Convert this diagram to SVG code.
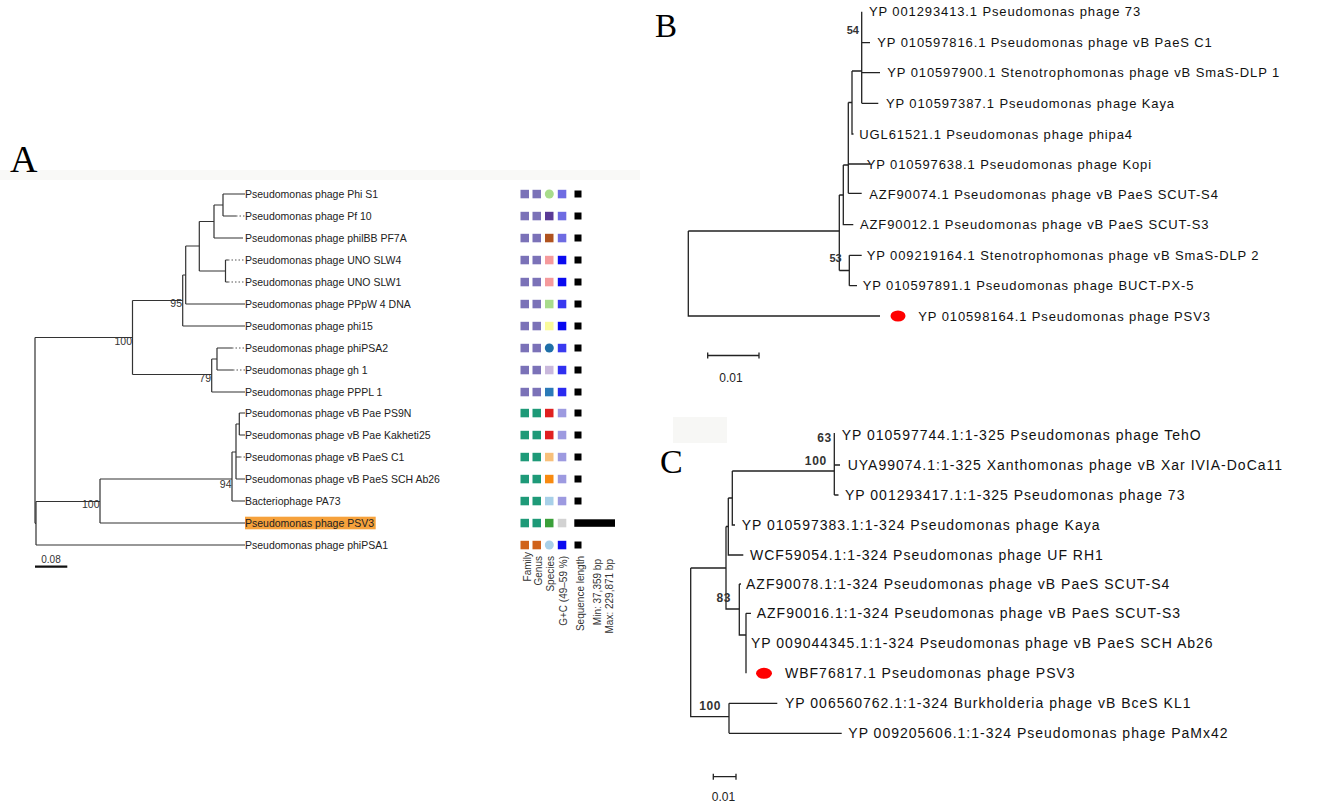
<svg xmlns="http://www.w3.org/2000/svg" width="1325" height="810" viewBox="0 0 1325 810">
<style>
.bg{fill:#ffffff}
.e{stroke:#333;stroke-width:1.2;fill:none}
.d{stroke:#555;stroke-width:1;fill:none;stroke-dasharray:1.5 2}
.eb{stroke:#222;stroke-width:1.3;fill:none}
.la{font-family:"Liberation Sans",Arial,sans-serif;font-size:10.5px;fill:#222}
.lg{font-family:"Liberation Sans",Arial,sans-serif;font-size:10px;fill:#333}
.bs{font-family:"Liberation Sans",Arial,sans-serif;font-size:10.5px;fill:#333}
.lb{font-family:"Liberation Sans",Arial,sans-serif;font-size:13px;letter-spacing:0.88px;fill:#111}
.lc{font-family:"Liberation Sans",Arial,sans-serif;font-size:14px;letter-spacing:1px;fill:#111}
.bt{font-family:"Liberation Sans",Arial,sans-serif;font-size:11px;font-weight:bold;fill:#333}
.bc{font-family:"Liberation Sans",Arial,sans-serif;font-size:12px;font-weight:bold;letter-spacing:0.6px;fill:#333}
.sc{font-family:"Liberation Sans",Arial,sans-serif;font-size:12px;fill:#222}
.pl{font-family:"Liberation Serif","Times New Roman",serif;fill:#000}
.pu{fill:#7b72b8}.gr{fill:#1e9a78}.or{fill:#d0621a}
.dot{fill:#ff0000}
</style>
<rect class="bg" x="0" y="0" width="1325" height="810"/>
<rect x="0" y="170" width="640" height="10" fill="#f9f9f7"/>
<rect x="673" y="417" width="54" height="26" fill="#f7f7f5"/>

<!-- Panel letters -->
<text class="pl" x="10" y="172" font-size="38">A</text>
<text class="pl" x="655" y="37" font-size="33">B</text>
<text class="pl" x="660" y="473" font-size="34">C</text>

<!-- ================= Panel A ================= -->
<g id="panelA-edges">
<path class="e" d="M223,194V216M223,194H245M223,216H236M214,205V238M214,205H223M214,238H243"/>
<path class="d" d="M236,216H245"/>
<path class="e" d="M225.5,260V282M225.5,260H228M225.5,282H228"/>
<path class="d" d="M228,260H245M228,282H245"/>
<path class="e" d="M199.3,221.5V271M199.3,221.5H214M199.3,271H225.5"/>
<path class="e" d="M185.7,246V304M185.7,246H199.3M185.7,304H245"/>
<path class="e" d="M182.7,275V326M182.7,275H185.7M182.7,326H245"/>
<path class="e" d="M132.5,300.5V374.5M132.5,300.5H182.7M132.5,374.5H211.7"/>
<path class="e" d="M217,348V370M217,348H232M217,370H233"/>
<path class="d" d="M232,348H245M233,370H245"/>
<path class="e" d="M211.7,359V392M211.7,359H217M211.7,392H245"/>
<path class="e" d="M35,337.5V523.3M35,337.5H132.5M35,523.3H36"/>
<path class="e" d="M239.3,413V435M239.3,413H245M239.3,435H245"/>
<path class="e" d="M236,424V479M236,424H239.3M236,457H240M236,479H245"/>
<path class="d" d="M240,457H245"/>
<path class="e" d="M232,452V501M232,452H236M232,501H245"/>
<path class="e" d="M100,479V523M100,479H232M100,523H245"/>
<path class="e" d="M36,501.5V545M36,501.5H100M36,545H245"/>
<path d="M35,566.7H67.3" stroke="#111" stroke-width="2.2"/>
</g>
<g id="panelA-support">
<text class="bs" x="182" y="307" text-anchor="end">95</text>
<text class="bs" x="132" y="344.5" text-anchor="end">100</text>
<text class="bs" x="211" y="381.5" text-anchor="end">79</text>
<text class="bs" x="231.5" y="487.5" text-anchor="end">94</text>
<text class="bs" x="99.5" y="508" text-anchor="end">100</text>
<text class="lg" x="51" y="562.5" text-anchor="middle">0.08</text>
</g>
<g id="panelA-labels">
<rect x="245" y="516.7" width="130.7" height="12.6" fill="#f6a13b"/>
<text class="la" x="245" y="197.8">Pseudomonas phage Phi S1</text>
<text class="la" x="245" y="219.8">Pseudomonas phage Pf 10</text>
<text class="la" x="245" y="241.8">Pseudomonas phage philBB PF7A</text>
<text class="la" x="245" y="263.8">Pseudomonas phage UNO SLW4</text>
<text class="la" x="245" y="285.8">Pseudomonas phage UNO SLW1</text>
<text class="la" x="245" y="307.8">Pseudomonas phage PPpW 4 DNA</text>
<text class="la" x="245" y="329.8">Pseudomonas phage phi15</text>
<text class="la" x="245" y="351.8">Pseudomonas phage phiPSA2</text>
<text class="la" x="245" y="373.8">Pseudomonas phage gh 1</text>
<text class="la" x="245" y="395.8">Pseudomonas phage PPPL 1</text>
<text class="la" x="245" y="416.8">Pseudomonas phage vB Pae PS9N</text>
<text class="la" x="245" y="438.8">Pseudomonas phage vB Pae Kakheti25</text>
<text class="la" x="245" y="460.8">Pseudomonas phage vB PaeS C1</text>
<text class="la" x="245" y="482.8">Pseudomonas phage vB PaeS SCH Ab26</text>
<text class="la" x="245" y="504.8">Bacteriophage PA73</text>
<text class="la" x="245" y="526.8">Pseudomonas phage PSV3</text>
<text class="la" x="245" y="548.8">Pseudomonas phage phiPSA1</text>
</g>
<g id="panelA-matrix">
<rect class="pu" x="520.5" y="189.8" width="8.5" height="8.5"/><rect class="pu" x="532.5" y="189.8" width="8.5" height="8.5"/><circle cx="549.3" cy="194" r="4.5" fill="#a8dc8c"/><rect x="557.8" y="189.8" width="8.5" height="8.5" fill="#6e6be2"/><rect x="574.5" y="190.5" width="7" height="7" fill="#000"/>
<rect class="pu" x="520.5" y="211.8" width="8.5" height="8.5"/><rect class="pu" x="532.5" y="211.8" width="8.5" height="8.5"/><rect x="545" y="211.8" width="8.5" height="8.5" fill="#5a3a96"/><rect x="557.8" y="211.8" width="8.5" height="8.5" fill="#6e6be2"/><rect x="574.5" y="212.5" width="7" height="7" fill="#000"/>
<rect class="pu" x="520.5" y="233.8" width="8.5" height="8.5"/><rect class="pu" x="532.5" y="233.8" width="8.5" height="8.5"/><rect x="545" y="233.8" width="8.5" height="8.5" fill="#b0531f"/><rect x="557.8" y="233.8" width="8.5" height="8.5" fill="#6e6be2"/><rect x="574.5" y="234.5" width="7" height="7" fill="#000"/>
<rect class="pu" x="520.5" y="255.8" width="8.5" height="8.5"/><rect class="pu" x="532.5" y="255.8" width="8.5" height="8.5"/><rect x="545" y="255.8" width="8.5" height="8.5" fill="#f59a9c"/><rect x="557.8" y="255.8" width="8.5" height="8.5" fill="#0a0af0"/><rect x="574.5" y="256.5" width="7" height="7" fill="#000"/>
<rect class="pu" x="520.5" y="277.8" width="8.5" height="8.5"/><rect class="pu" x="532.5" y="277.8" width="8.5" height="8.5"/><rect x="545" y="277.8" width="8.5" height="8.5" fill="#f59a9c"/><rect x="557.8" y="277.8" width="8.5" height="8.5" fill="#0a0af0"/><rect x="574.5" y="278.5" width="7" height="7" fill="#000"/>
<rect class="pu" x="520.5" y="299.8" width="8.5" height="8.5"/><rect class="pu" x="532.5" y="299.8" width="8.5" height="8.5"/><rect x="545" y="299.8" width="8.5" height="8.5" fill="#a8dc8c"/><rect x="557.8" y="299.8" width="8.5" height="8.5" fill="#3838f0"/><rect x="574.5" y="300.5" width="7" height="7" fill="#000"/>
<rect class="pu" x="520.5" y="321.8" width="8.5" height="8.5"/><rect class="pu" x="532.5" y="321.8" width="8.5" height="8.5"/><rect x="545" y="321.8" width="8.5" height="8.5" fill="#fafa9a"/><rect x="557.8" y="321.8" width="8.5" height="8.5" fill="#0808f0"/><rect x="574.5" y="322.5" width="7" height="7" fill="#000"/>
<rect class="pu" x="520.5" y="343.8" width="8.5" height="8.5"/><rect class="pu" x="532.5" y="343.8" width="8.5" height="8.5"/><circle cx="549.3" cy="348" r="4.5" fill="#1f6fa8"/><rect x="557.8" y="343.8" width="8.5" height="8.5" fill="#3a3af0"/><rect x="574.5" y="344.5" width="7" height="7" fill="#000"/>
<rect class="pu" x="520.5" y="365.8" width="8.5" height="8.5"/><rect class="pu" x="532.5" y="365.8" width="8.5" height="8.5"/><rect x="545" y="365.8" width="8.5" height="8.5" fill="#c9b8dc"/><rect x="557.8" y="365.8" width="8.5" height="8.5" fill="#2f2ff0"/><rect x="574.5" y="366.5" width="7" height="7" fill="#000"/>
<rect class="pu" x="520.5" y="387.8" width="8.5" height="8.5"/><rect class="pu" x="532.5" y="387.8" width="8.5" height="8.5"/><rect x="545" y="387.8" width="8.5" height="8.5" fill="#2b7ab8"/><rect x="557.8" y="387.8" width="8.5" height="8.5" fill="#2a2af0"/><rect x="574.5" y="388.5" width="7" height="7" fill="#000"/>
<rect class="gr" x="520.5" y="408.8" width="8.5" height="8.5"/><rect class="gr" x="532.5" y="408.8" width="8.5" height="8.5"/><rect x="545" y="408.8" width="8.5" height="8.5" fill="#e02020"/><rect x="557.8" y="408.8" width="8.5" height="8.5" fill="#9d9ae0"/><rect x="574.5" y="409.5" width="7" height="7" fill="#000"/>
<rect class="gr" x="520.5" y="430.8" width="8.5" height="8.5"/><rect class="gr" x="532.5" y="430.8" width="8.5" height="8.5"/><rect x="545" y="430.8" width="8.5" height="8.5" fill="#e02020"/><rect x="557.8" y="430.8" width="8.5" height="8.5" fill="#9d9ae0"/><rect x="574.5" y="431.5" width="7" height="7" fill="#000"/>
<rect class="gr" x="520.5" y="452.8" width="8.5" height="8.5"/><rect class="gr" x="532.5" y="452.8" width="8.5" height="8.5"/><rect x="545" y="452.8" width="8.5" height="8.5" fill="#f8c07a"/><rect x="557.8" y="452.8" width="8.5" height="8.5" fill="#9d9ae0"/><rect x="574.5" y="453.5" width="7" height="7" fill="#000"/>
<rect class="gr" x="520.5" y="474.8" width="8.5" height="8.5"/><rect class="gr" x="532.5" y="474.8" width="8.5" height="8.5"/><rect x="545" y="474.8" width="8.5" height="8.5" fill="#f88a10"/><rect x="557.8" y="474.8" width="8.5" height="8.5" fill="#9d9ae0"/><rect x="574.5" y="475.5" width="7" height="7" fill="#000"/>
<rect class="gr" x="520.5" y="496.8" width="8.5" height="8.5"/><rect class="gr" x="532.5" y="496.8" width="8.5" height="8.5"/><rect x="545" y="496.8" width="8.5" height="8.5" fill="#a8d0e8"/><rect x="557.8" y="496.8" width="8.5" height="8.5" fill="#9d9ae0"/><rect x="574.5" y="497.5" width="7" height="7" fill="#000"/>
<rect class="gr" x="520.5" y="518.8" width="8.5" height="8.5"/><rect class="gr" x="532.5" y="518.8" width="8.5" height="8.5"/><rect x="545" y="518.8" width="8.5" height="8.5" fill="#3aa03a"/><rect x="557.8" y="518.8" width="8.5" height="8.5" fill="#d2d2d2"/><rect x="574.3" y="519.3" width="40.7" height="7.5" fill="#000"/>
<rect class="or" x="520.5" y="540.8" width="8.5" height="8.5"/><rect class="or" x="532.5" y="540.8" width="8.5" height="8.5"/><circle cx="549.3" cy="545" r="4.5" fill="#a8d0e8"/><rect x="557.8" y="540.8" width="8.5" height="8.5" fill="#0a0af0"/><rect x="574.5" y="541.5" width="7" height="7" fill="#000"/>
</g>
<g id="panelA-legend">
<text class="lg" text-anchor="end" transform="translate(531,552) rotate(-90)">Family</text>
<text class="lg" text-anchor="end" transform="translate(542,556) rotate(-90)">Genus</text>
<text class="lg" text-anchor="end" transform="translate(554,556) rotate(-90)">Species</text>
<text class="lg" text-anchor="end" transform="translate(566.7,556) rotate(-90)">G+C (49–59 %)</text>
<text class="lg" text-anchor="end" transform="translate(584,556) rotate(-90)">Sequence length</text>
<text class="lg" text-anchor="end" transform="translate(600.5,559) rotate(-90)">Min: 37,359 bp</text>
<text class="lg" text-anchor="end" transform="translate(612.5,559) rotate(-90)">Max: 229,871 bp</text>
</g>

<!-- ================= Panel B ================= -->
<g id="panelB-edges">
<path class="eb" d="M861.7,11.7V103.3M861.7,42.7H870M861.7,72.7H880M861.7,103.3H878.3"/>
<path class="eb" d="M852,71H861.7M852,71V134H853.5"/>
<path class="eb" d="M848.3,102.5H852M848.3,102.5V193.3M848.3,164H870M848.3,193.3H861.7"/>
<path class="eb" d="M843.3,165H848.3M843.3,165V224.7H853.3"/>
<path class="eb" d="M839.3,195H843.3M839.3,195V270.5"/>
<path class="eb" d="M849.3,255.3V285.7M849.3,255.3H861.7M849.3,285.7H857M839.3,270.5H849.3"/>
<path class="eb" d="M688.3,231H839.3M688.3,231V316H880"/>
<path class="eb" d="M707.7,355.5H759M707.7,352.5V358.5M759,352.5V358.5"/>
</g>
<g id="panelB-labels">
<text class="bt" x="859" y="33.5" text-anchor="end" font-size="10">54</text>
<text class="bt" x="841.7" y="262" text-anchor="end">53</text>
<text class="sc" x="731" y="382" text-anchor="middle">0.01</text>
<text class="lb" x="869" y="16.3">YP 001293413.1 Pseudomonas phage 73</text>
<text class="lb" x="877.3" y="47.3">YP 010597816.1 Pseudomonas phage vB PaeS C1</text>
<text class="lb" x="887.3" y="77.3">YP 010597900.1 Stenotrophomonas phage vB SmaS-DLP 1</text>
<text class="lb" x="886" y="107.9">YP 010597387.1 Pseudomonas phage Kaya</text>
<text class="lb" x="859.3" y="138.6">UGL61521.1 Pseudomonas phage phipa4</text>
<text class="lb" x="866.7" y="168.6">YP 010597638.1 Pseudomonas phage Kopi</text>
<text class="lb" x="869.3" y="198.6">AZF90074.1 Pseudomonas phage vB PaeS SCUT-S4</text>
<text class="lb" x="860" y="229.3">AZF90012.1 Pseudomonas phage vB PaeS SCUT-S3</text>
<text class="lb" x="866.7" y="259.9">YP 009219164.1 Stenotrophomonas phage vB SmaS-DLP 2</text>
<text class="lb" x="862.7" y="290.3">YP 010597891.1 Pseudomonas phage BUCT-PX-5</text>
<ellipse class="dot" cx="898" cy="316" rx="7.5" ry="5.5"/>
<text class="lb" x="918.3" y="320.6">YP 010598164.1 Pseudomonas phage PSV3</text>
</g>

<!-- ================= Panel C ================= -->
<g id="panelC-edges">
<path class="eb" d="M834.3,433V495M834.3,465H840M834.3,495H838.5"/>
<path class="eb" d="M732.3,471H834.3M732.3,471V525H735"/>
<path class="eb" d="M728.3,498H732.3M728.3,498V555H743.3"/>
<path class="eb" d="M726,526.5H728.3M726,526.5V609H739.3"/>
<path class="eb" d="M739.3,584V635H746M739.3,584H741"/>
<path class="eb" d="M746,613.3V673.3M746,613.3H751"/>
<path class="eb" d="M690.7,568H726M690.7,568V716.7H729"/>
<path class="eb" d="M729,703.3V733.3M729,703.3H777.3M729,733.3H841.7"/>
<path class="eb" d="M713.3,776.7H736M713.3,773.7V779.7M736,773.7V779.7"/>
</g>
<g id="panelC-labels">
<text class="bc" x="831.7" y="442" text-anchor="end">63</text>
<text class="bc" x="826.7" y="465" text-anchor="end">100</text>
<text class="bc" x="731" y="601.5" text-anchor="end">83</text>
<text class="bc" x="721" y="710" text-anchor="end">100</text>
<text class="sc" x="723.5" y="801" text-anchor="middle">0.01</text>
<text class="lc" x="841.7" y="440">YP 010597744.1:1-325 Pseudomonas phage TehO</text>
<text class="lc" x="847.7" y="470">UYA99074.1:1-325 Xanthomonas phage vB Xar IVIA-DoCa11</text>
<text class="lc" x="845" y="500">YP 001293417.1:1-325 Pseudomonas phage 73</text>
<text class="lc" x="741.7" y="530">YP 010597383.1:1-324 Pseudomonas phage Kaya</text>
<text class="lc" x="750" y="560">WCF59054.1:1-324 Pseudomonas phage UF RH1</text>
<text class="lc" x="746" y="589">AZF90078.1:1-324 Pseudomonas phage vB PaeS SCUT-S4</text>
<text class="lc" x="756.7" y="618.3">AZF90016.1:1-324 Pseudomonas phage vB PaeS SCUT-S3</text>
<text class="lc" x="751" y="648.3">YP 009044345.1:1-324 Pseudomonas phage vB PaeS SCH Ab26</text>
<ellipse class="dot" cx="764" cy="673.3" rx="8" ry="5.5"/>
<text class="lc" x="785" y="678.3">WBF76817.1 Pseudomonas phage PSV3</text>
<text class="lc" x="785" y="708.3">YP 006560762.1:1-324 Burkholderia phage vB BceS KL1</text>
<text class="lc" x="848.3" y="738.3">YP 009205606.1:1-324 Pseudomonas phage PaMx42</text>
</g>
</svg>
